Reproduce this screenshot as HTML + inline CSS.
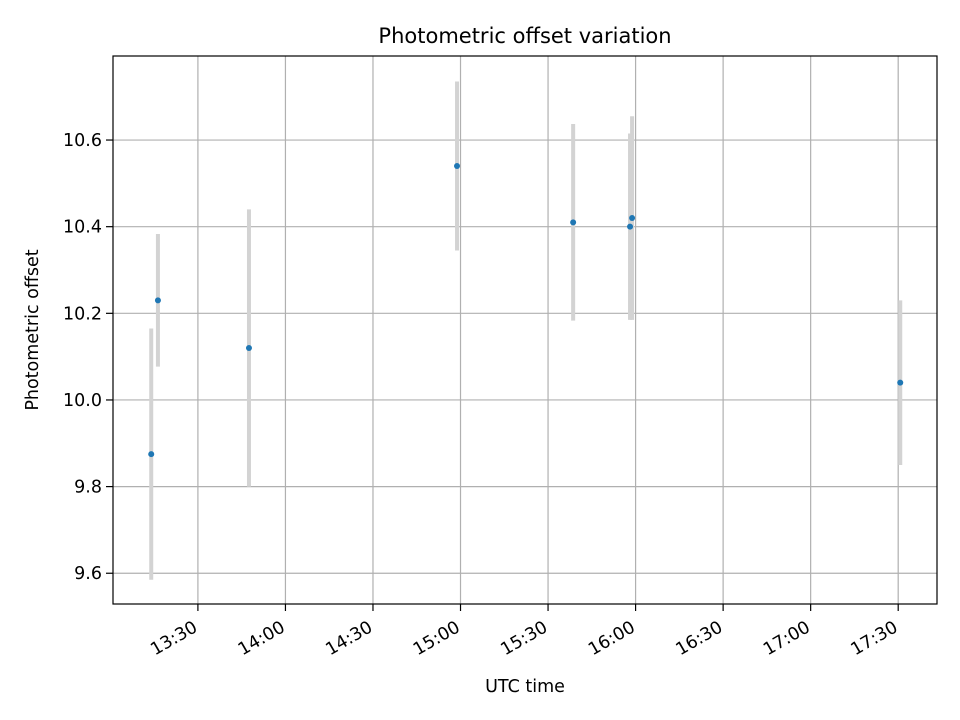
<!DOCTYPE html>
<html><head><meta charset="utf-8"><style>
body{margin:0;background:#fff;}
svg{display:block;font-family:"DejaVu Sans","Liberation Sans",sans-serif;}
</style></head><body>
<svg id="chart" width="960" height="720">
<rect x="0" y="0" width="960" height="720" fill="#fff"/>
<g id="grid"></g><g id="marks"></g><g id="axes"></g>
<text x="525" y="43" text-anchor="middle" font-size="21">Photometric offset variation</text>
<text x="525" y="692" text-anchor="middle" font-size="17.5">UTC time</text>
<text transform="translate(38,330) rotate(-90)" text-anchor="middle" font-size="17.5">Photometric offset</text>
</svg>
<script>
// minutes after 13:00
const times = [14.0, 16.3, 47.5, 118.8, 158.6, 178.1, 178.8, 270.7];
const offsets = [9.875, 10.23, 10.12, 10.54, 10.41, 10.40, 10.42, 10.04];
const errors = [0.29, 0.153, 0.32, 0.195, 0.227, 0.215, 0.235, 0.19];
const yTicks = [9.6, 9.8, 10.0, 10.2, 10.4, 10.6];
const yTickLabels = ["9.6", "9.8", "10.0", "10.2", "10.4", "10.6"];
const xTicks = [30, 60, 90, 120, 150, 180, 210, 240, 270];
const xTickLabels = ["13:30", "14:00", "14:30", "15:00", "15:30", "16:00", "16:30", "17:00", "17:30"];

const L=113,R=937,T=56,B=604;
const x0=0.9,x1=283.3,y0=9.529,y1=10.794;
const sx=v=>L+(v-x0)/(x1-x0)*(R-L);
const sy=v=>B-(v-y0)/(y1-y0)*(B-T);
const NS="http://www.w3.org/2000/svg";
function mk(tag,attrs,parent){const e=document.createElementNS(NS,tag);for(const k in attrs)e.setAttribute(k,attrs[k]);parent.appendChild(e);return e;}
const grid=document.getElementById('grid'),marks=document.getElementById('marks'),axes=document.getElementById('axes');
yTicks.forEach((v,i)=>{const y=sy(v);
 const g=mk('line',{x1:L,x2:R,y1:y,y2:y,stroke:'#b0b0b0','stroke-width':1.2},grid);
 
 mk('line',{x1:L-7,x2:L,y1:y,y2:y,stroke:'#000','stroke-width':1.2},axes);
 const t=mk('text',{x:L-11,y:y+6,'text-anchor':'end','font-size':17.5},axes);t.textContent=yTickLabels[i];
 
});
xTicks.forEach((v,i)=>{const x=sx(v);
 const g=mk('line',{x1:x,x2:x,y1:T,y2:B,stroke:'#b0b0b0','stroke-width':1.2},grid);
 
 mk('line',{x1:x,x2:x,y1:B,y2:B+7,stroke:'#000','stroke-width':1.2},axes);
 const t=mk('text',{x:0,y:0,'text-anchor':'end','font-size':17.5,transform:`translate(${x-6},${B+15}) rotate(-30)`},axes);
 t.setAttribute('dy','0.76em');t.textContent=xTickLabels[i];
 
});
const frame=mk('rect',{x:L,y:T,width:R-L,height:B-T,fill:'none',stroke:'#000','stroke-width':1.2},axes);

times.forEach((t,i)=>{const x=sx(t);
 const e=mk('line',{x1:x,x2:x,y1:sy(offsets[i]-errors[i]),y2:sy(offsets[i]+errors[i]),stroke:'#d3d3d3','stroke-width':4},marks);
 
});
times.forEach((t,i)=>{
 const c=mk('circle',{cx:sx(t),cy:sy(offsets[i]),r:3,fill:'#1f77b4'},marks);
 
});
</script>
</body></html>
